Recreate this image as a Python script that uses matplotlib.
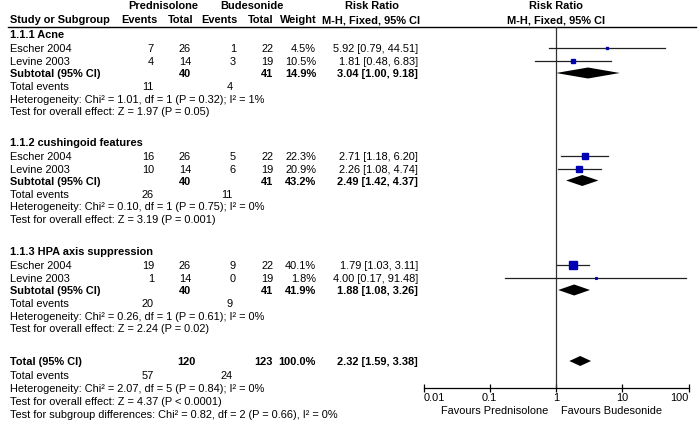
import matplotlib
matplotlib.use("Agg")
import matplotlib.pyplot as plt
import numpy as np

plt.rcParams['font.family'] = ['Liberation Sans', 'DejaVu Sans']

# ---------------------------------------------------------------------------
# Datos del forest plot (Prednisolone vs Budesonide)
# ---------------------------------------------------------------------------
subgroups = ["1.1.1 Acne", "1.1.2 cushingoid features", "1.1.3 HPA axis suppression"]
studies = ["Escher 2004", "Levine 2003"]

pred_events = [[7, 4], [16, 10], [19, 1]]
pred_total = [[26, 14], [26, 14], [26, 14]]
bud_events = [[1, 3], [5, 6], [9, 0]]
bud_total = [[22, 19], [22, 19], [22, 19]]
weights = [[4.5, 10.5], [22.3, 20.9], [40.1, 1.8]]
rr = [[5.92, 1.81], [2.71, 2.26], [1.79, 4.00]]
rr_lo = [[0.79, 0.48], [1.18, 1.08], [1.03, 0.17]]
rr_hi = [[44.51, 6.83], [6.20, 4.74], [3.11, 91.48]]

sub_pred_total = [40, 40, 40]
sub_bud_total = [41, 41, 41]
sub_weight = [14.9, 43.2, 41.9]
sub_rr = [3.04, 2.49, 1.88]
sub_lo = [1.00, 1.42, 1.08]
sub_hi = [9.18, 4.37, 3.26]
sub_pred_events = [11, 26, 20]
sub_bud_events = [4, 11, 9]
sub_chi2 = ["1.01", "0.10", "0.26"]
sub_df = [1, 1, 1]
sub_p_het = ["0.32", "0.75", "0.61"]
sub_i2 = ["1%", "0%", "0%"]
sub_z = ["1.97", "3.19", "2.24"]
sub_p_z = ["0.05", "0.001", "0.02"]

tot_pred_total, tot_bud_total, tot_weight = 120, 123, 100.0
tot_rr, tot_lo, tot_hi = 2.32, 1.59, 3.38
tot_pred_events, tot_bud_events = 57, 24
tot_het = "Heterogeneity: Chi² = 2.07, df = 5 (P = 0.84); I² = 0%"
tot_test = "Test for overall effect: Z = 4.37 (P < 0.0001)"
subgroup_test = "Test for subgroup differences: Chi² = 0.82, df = 2 (P = 0.66), I² = 0%"

axis_ticks = [0.01, 0.1, 1, 10, 100]
axis_labels = ["0.01", "0.1", "1", "10", "100"]

# ---------------------------------------------------------------------------
# Figura en coordenadas de pixel
# ---------------------------------------------------------------------------
W, H = 700, 425
fig = plt.figure(figsize=(W / 100, H / 100), dpi=100)
ax = fig.add_axes([0, 0, 1, 1])
ax.set_xlim(0, W)
ax.set_ylim(H, 0)
ax.axis('off')

FS = 7.9
X_STUDY = 10
X_PE, X_PT, X_BE, X_BT, X_W, X_CI = 154, 191, 236, 273, 316, 418

def txt(x, y, s, ha='left', bold=False):
    ax.text(x, y, s, ha=ha, va='center', fontsize=FS,
            fontweight='bold' if bold else 'normal')

# Encabezados
txt(163, 6, "Prednisolone", ha='center', bold=True)
txt(252, 6, "Budesonide", ha='center', bold=True)
txt(372, 6, "Risk Ratio", ha='center', bold=True)
txt(556, 6, "Risk Ratio", ha='center', bold=True)
txt(X_STUDY, 20, "Study or Subgroup", bold=True)
for x, s in [(X_PE + 4, "Events"), (X_PT + 3, "Total"), (X_BE + 2, "Events"),
             (X_BT + 1, "Total"), (X_W + 1, "Weight")]:
    txt(x, 20, s, ha='right', bold=True)
txt(X_CI + 2, 20, "M-H, Fixed, 95% CI", ha='right', bold=True)
txt(556, 20, "M-H, Fixed, 95% CI", ha='center', bold=True)
ax.plot([8, 696], [26.5, 26.5], color='black', lw=1.0)

# Eje del forest plot (escala log)
AX_L, AX_R, AX_T, AX_B = 423.5, 688.5, 26.5, 388
fax = fig.add_axes([AX_L / W, 1 - AX_B / H, (AX_R - AX_L) / W, (AX_B - AX_T) / H])
fax.set_xscale('log')
fax.set_xlim(0.01, 100)
fax.set_ylim(AX_B, AX_T)
fax.patch.set_alpha(0)
for s in ['top', 'left', 'right']:
    fax.spines[s].set_visible(False)
fax.spines['bottom'].set_linewidth(0.9)
fax.set_yticks([])
fax.set_xticks(axis_ticks)
fax.set_xticklabels(axis_labels, fontsize=FS)
fax.minorticks_off()
fax.tick_params(axis='x', direction='inout', length=6, width=0.9, pad=0.5)
tlabels = fax.get_xticklabels()
tlabels[0].set_horizontalalignment('left')
tlabels[-1].set_horizontalalignment('right')
fax.axvline(1, color='#333333', lw=0.9)

SQ_COLOR = '#0000B4'

def diamond(y, c, lo, hi, h=5.5):
    fax.fill([lo, c, hi, c], [y, y - h, y, y + h], color='black', lw=0)

group_top = [35, 142.5, 252]
for g, y0 in enumerate(group_top):
    txt(X_STUDY, y0, subgroups[g], bold=True)
    for i, st in enumerate(studies):
        y = y0 + 14 + 13 * i
        txt(X_STUDY, y, st)
        txt(X_PE, y, str(pred_events[g][i]), ha='right')
        txt(X_PT, y, str(pred_total[g][i]), ha='right')
        txt(X_BE, y, str(bud_events[g][i]), ha='right')
        txt(X_BT, y, str(bud_total[g][i]), ha='right')
        txt(X_W, y, f"{weights[g][i]:.1f}%", ha='right')
        txt(X_CI, y, f"{rr[g][i]:.2f} [{rr_lo[g][i]:.2f}, {rr_hi[g][i]:.2f}]", ha='right')
        fax.plot([rr_lo[g][i], rr_hi[g][i]], [y - 1, y - 1], color='#222222', lw=0.9)
        fax.plot(rr[g][i], y - 1, marker='s', color=SQ_COLOR, mec=SQ_COLOR,
                 markersize=1.26 * np.sqrt(weights[g][i]) * 0.72)
    ys = y0 + 39
    txt(X_STUDY, ys, "Subtotal (95% CI)", bold=True)
    txt(X_PT, ys, str(sub_pred_total[g]), ha='right', bold=True)
    txt(X_BT, ys, str(sub_bud_total[g]), ha='right', bold=True)
    txt(X_W, ys, f"{sub_weight[g]:.1f}%", ha='right', bold=True)
    txt(X_CI, ys, f"{sub_rr[g]:.2f} [{sub_lo[g]:.2f}, {sub_hi[g]:.2f}]", ha='right', bold=True)
    diamond(ys - 1, sub_rr[g], sub_lo[g], sub_hi[g])
    ye = y0 + 52
    txt(X_STUDY, ye, "Total events")
    txt(X_PE, ye, str(sub_pred_events[g]), ha='right')
    txt(X_BE - 3, ye, str(sub_bud_events[g]), ha='right')
    txt(X_STUDY, ye + 12.5,
        f"Heterogeneity: Chi² = {sub_chi2[g]}, df = {sub_df[g]} (P = {sub_p_het[g]}); I² = {sub_i2[g]}")
    txt(X_STUDY, ye + 25, f"Test for overall effect: Z = {sub_z[g]} (P = {sub_p_z[g]})")

# Total general
yt = 362
txt(X_STUDY, yt, "Total (95% CI)", bold=True)
txt(X_PT + 5, yt, str(tot_pred_total), ha='right', bold=True)
txt(X_BT, yt, str(tot_bud_total), ha='right', bold=True)
txt(X_W, yt, f"{tot_weight:.1f}%", ha='right', bold=True)
txt(X_CI, yt, f"{tot_rr:.2f} [{tot_lo:.2f}, {tot_hi:.2f}]", ha='right', bold=True)
diamond(yt - 1, tot_rr, tot_lo, tot_hi, h=5)
txt(X_STUDY, yt + 14, "Total events")
txt(X_PE, yt + 14, str(tot_pred_events), ha='right')
txt(X_BE - 3, yt + 14, str(tot_bud_events), ha='right')
txt(X_STUDY, yt + 27, tot_het)
txt(X_STUDY, yt + 40, tot_test)
txt(X_STUDY, yt + 53, subgroup_test)

txt(548, 411, "Favours Prednisolone", ha='right')
txt(561, 411, "Favours Budesonide")

fig.savefig("out.png", dpi=100)
